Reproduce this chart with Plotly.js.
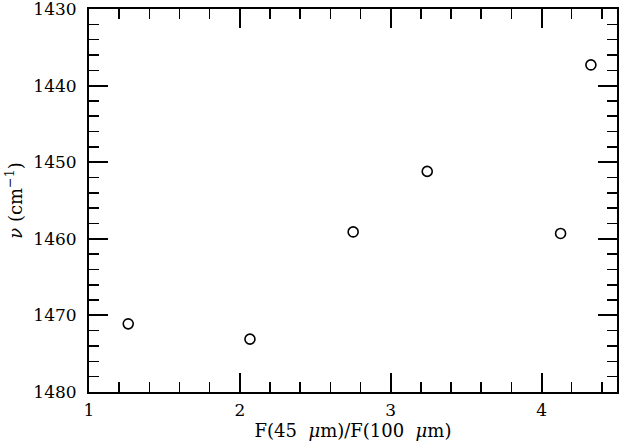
<!DOCTYPE html>
<html>
<head>
<meta charset="utf-8">
<script src="https://cdn.plot.ly/plotly-3.0.1.min.js"></script>
<style>html,body{margin:0;padding:0;background:#fff;}#chart{width:620px;height:442px;}</style>
</head>
<body>
<div id="chart"></div>
<script>
var fluxRatio = [1.26, 2.067, 2.751, 3.242, 4.126, 4.327];
var wavenumber = [1471.1, 1473.1, 1459.1, 1451.2, 1459.3, 1437.3];
var xTickVals = [1, 2, 3, 4];
var yTickVals = [1430, 1440, 1450, 1460, 1470, 1480];

var fam = '"DejaVu Serif", "Liberation Serif", serif';
var tickFont = {family: fam, size: 17, color: '#000'};
var titleFont = {family: fam, size: 18, color: '#000'};

var trace = {
  x: fluxRatio,
  y: wavenumber,
  mode: 'markers',
  type: 'scatter',
  marker: {symbol: 'circle-open', size: 10, color: '#000', line: {width: 1.6, color: '#000'}},
  hoverinfo: 'skip'
};

var axisCommon = {
  showgrid: false,
  zeroline: false,
  showline: true,
  linecolor: '#000',
  linewidth: 2,
  mirror: 'allticks',
  ticks: 'inside',
  ticklen: 19,
  tickwidth: 2,
  tickcolor: '#000',
  tickfont: tickFont,
  ticklabeloverflow: 'allow'
};

var layout = {
  width: 620,
  height: 442,
  margin: {l: 89, r: 3, t: 9, b: 50},
  paper_bgcolor: '#fff',
  plot_bgcolor: '#fff',
  showlegend: false,
  font: tickFont,
  xaxis: Object.assign({}, axisCommon, {
    range: [1, 4.5],
    tickmode: 'array',
    tickvals: xTickVals,
    ticktext: xTickVals.map(String),
    ticklabelstandoff: 2,
    minor: {dtick: 0.2, tick0: 1, ticks: 'inside', ticklen: 10, tickwidth: 1.5, tickcolor: '#000', showgrid: false},
    title: {text: 'F(45\u00a0\u00a0<i>μ</i>m)/F(100\u00a0\u00a0<i>μ</i>m)', font: titleFont, standoff: 3}
  }),
  yaxis: Object.assign({}, axisCommon, {
    range: [1480, 1430],
    tickmode: 'array',
    tickvals: yTickVals,
    ticktext: yTickVals.map(String),
    ticklabelstandoff: 7,
    minor: {dtick: 2, tick0: 1430, ticks: 'inside', ticklen: 10, tickwidth: 1.5, tickcolor: '#000', showgrid: false},
    title: {text: '<i>ν</i>\u00a0(cm<sup>−1</sup>)', font: titleFont, standoff: 6}
  })
};

Plotly.newPlot('chart', [trace], layout, {staticPlot: true, displayModeBar: false});
</script>
</body>
</html>
